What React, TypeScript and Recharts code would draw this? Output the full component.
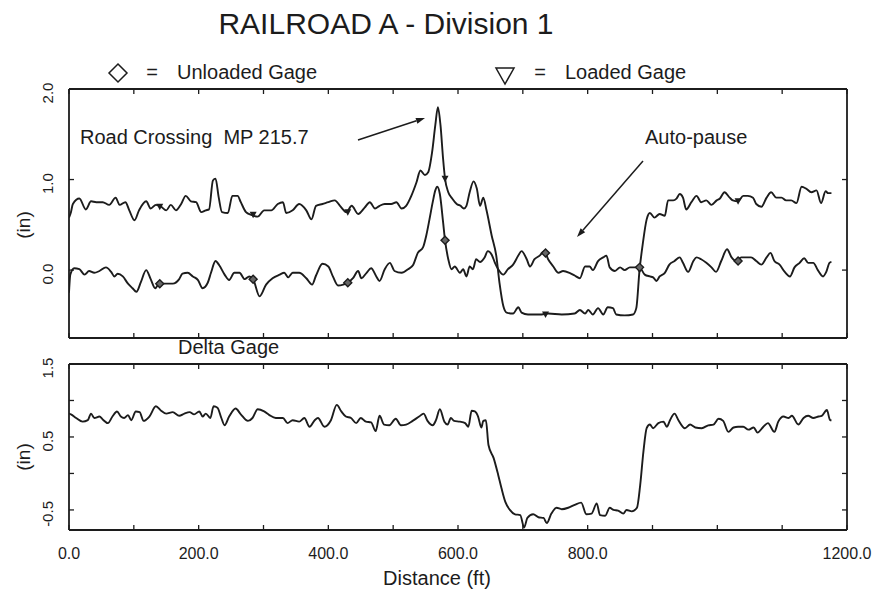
import React from 'react';
import { ComposedChart, Line, Scatter, XAxis, YAxis } from 'recharts';

type Pt = [number, number];

// [distance ft, gage in]
const loadedTrace: Pt[] = [
  [0, 0.58], [3, 0.64], [6, 0.73], [16, 0.79], [26, 0.67], [34, 0.76], [42, 0.75], [52, 0.75], [62, 0.72],
  [72, 0.8], [78, 0.72], [87, 0.75], [93, 0.66], [101, 0.55], [108, 0.66], [119, 0.76], [126, 0.68], [134, 0.72],
  [142, 0.7], [150, 0.66], [157, 0.72], [165, 0.66], [173, 0.73], [180, 0.82], [188, 0.76], [196, 0.75], [204, 0.64],
  [211, 0.66], [216, 0.67], [222, 0.99], [226, 1.01], [231, 0.8], [236, 0.64], [245, 0.63], [252, 0.82], [260, 0.82],
  [265, 0.75], [273, 0.64], [281, 0.61], [291, 0.59], [301, 0.66], [312, 0.66], [322, 0.73], [330, 0.75], [335, 0.63],
  [345, 0.66], [355, 0.73], [366, 0.66], [374, 0.56], [381, 0.71], [391, 0.73], [400, 0.75], [410, 0.77], [418, 0.71],
  [428, 0.64], [436, 0.71], [446, 0.62], [456, 0.69], [464, 0.75], [472, 0.68], [479, 0.71], [487, 0.73], [497, 0.73],
  [505, 0.75], [513, 0.68], [520, 0.71], [528, 0.82], [536, 0.97], [542, 1.1], [549, 1.05], [554, 1.08], [560, 1.3],
  [565, 1.6], [569, 1.8], [573, 1.6], [577, 1.23], [580, 1.01], [585, 0.86], [591, 0.79], [598, 0.73], [604, 0.71],
  [609, 0.68], [613, 0.71], [618, 0.86], [624, 0.98], [629, 0.9], [634, 0.71], [639, 0.8], [644, 0.66], [652, 0.38],
  [659, 0.16], [664, -0.14], [670, -0.4], [675, -0.47], [685, -0.48], [693, -0.41], [698, -0.47], [708, -0.49],
  [729, -0.49], [739, -0.48], [760, -0.49], [780, -0.48], [788, -0.44], [796, -0.48], [801, -0.44], [808, -0.49],
  [816, -0.42], [824, -0.49], [831, -0.41], [839, -0.42], [844, -0.49], [857, -0.5], [870, -0.49], [875, -0.42],
  [880, 0.0], [885, 0.29], [891, 0.56], [896, 0.63], [903, 0.58], [911, 0.62], [919, 0.6], [924, 0.77], [932, 0.77],
  [937, 0.79], [942, 0.84], [947, 0.8], [952, 0.67], [960, 0.75], [968, 0.82], [975, 0.75], [983, 0.77], [991, 0.72],
  [999, 0.77], [1004, 0.79], [1011, 0.86], [1019, 0.8], [1024, 0.77], [1032, 0.76], [1040, 0.82], [1047, 0.82],
  [1055, 0.8], [1060, 0.73], [1068, 0.7], [1076, 0.8], [1083, 0.86], [1091, 0.8], [1099, 0.8], [1106, 0.77],
  [1114, 0.77], [1122, 0.74], [1130, 0.92], [1137, 0.9], [1145, 0.86], [1153, 0.88], [1160, 0.74], [1167, 0.87],
  [1171, 0.85], [1176, 0.85],
];

const unloadedTrace: Pt[] = [
  [0, -0.25], [2, -0.05], [8, 0.02], [16, 0.01], [24, -0.05], [31, -0.01], [39, -0.03], [47, -0.01], [57, 0.03],
  [65, -0.02], [70, -0.07], [75, -0.04], [83, -0.07], [91, -0.15], [98, -0.2], [104, -0.24], [111, -0.13], [119, 0.0],
  [126, -0.1], [133, -0.2], [139, -0.15], [150, -0.15], [160, -0.15], [170, -0.1], [175, -0.04], [183, -0.03],
  [191, -0.07], [199, -0.11], [206, -0.2], [214, -0.14], [219, -0.03], [226, 0.1], [232, 0.05], [240, -0.05],
  [247, -0.11], [255, -0.03], [263, -0.03], [271, -0.1], [278, -0.07], [284, -0.1], [294, -0.29], [304, -0.16],
  [314, -0.09], [325, -0.05], [332, -0.03], [338, -0.08], [345, -0.03], [355, -0.03], [366, -0.09], [375, -0.16],
  [381, -0.06], [391, 0.07], [400, 0.04], [407, -0.07], [415, -0.17], [423, -0.16], [430, -0.14], [438, -0.09],
  [446, -0.01], [451, -0.09], [459, -0.03], [466, 0.02], [474, -0.07], [479, -0.12], [487, 0.01], [495, 0.08],
  [502, -0.01], [513, -0.03], [523, 0.01], [531, 0.06], [538, 0.19], [546, 0.25], [551, 0.38], [556, 0.56],
  [561, 0.75], [565, 0.88], [568, 0.92], [572, 0.84], [577, 0.53], [580, 0.33], [585, 0.12], [590, 0.01], [595, 0.04],
  [603, -0.03], [608, 0.01], [613, -0.07], [618, 0.04], [623, 0.01], [628, 0.12], [634, 0.09], [641, 0.14],
  [646, 0.21], [652, 0.17], [657, 0.08], [662, 0.01], [670, -0.05], [677, 0.01], [685, 0.06], [693, 0.16],
  [698, 0.21], [706, 0.12], [711, 0.04], [718, 0.12], [726, 0.16], [733, 0.21], [739, 0.12], [747, 0.04],
  [755, -0.03], [762, -0.01], [772, -0.03], [780, -0.06], [788, -0.09], [796, 0.04], [803, 0.04], [808, 0.0],
  [816, 0.1], [824, 0.14], [829, 0.16], [834, 0.03], [842, -0.01], [850, 0.03], [857, 0.0], [865, 0.03], [872, 0.03],
  [880, 0.03], [888, -0.05], [896, -0.07], [901, -0.08], [906, -0.12], [911, -0.07], [919, -0.03], [926, 0.06],
  [934, 0.1], [942, 0.14], [947, 0.08], [955, -0.02], [963, 0.1], [968, 0.14], [975, 0.12], [983, 0.08], [991, 0.03],
  [998, -0.02], [1006, 0.1], [1015, 0.23], [1022, 0.14], [1029, 0.1], [1037, 0.14], [1045, 0.14], [1052, 0.14],
  [1060, 0.1], [1068, 0.06], [1076, 0.14], [1082, 0.19], [1088, 0.1], [1096, 0.06], [1104, -0.02], [1112, -0.07],
  [1119, 0.03], [1127, 0.08], [1134, 0.13], [1140, 0.08], [1148, 0.08], [1155, 0.0], [1163, -0.07], [1168, -0.02],
  [1173, 0.08], [1176, 0.09],
];

const deltaTrace: Pt[] = [
  [0, 0.82], [3, 0.81], [11, 0.76], [21, 0.71], [29, 0.73], [34, 0.82], [39, 0.76], [47, 0.78], [52, 0.74],
  [60, 0.69], [67, 0.78], [74, 0.85], [80, 0.78], [85, 0.76], [91, 0.8], [96, 0.73], [103, 0.85], [109, 0.84],
  [115, 0.72], [124, 0.78], [134, 0.92], [142, 0.86], [150, 0.82], [160, 0.84], [170, 0.79], [178, 0.82], [186, 0.84],
  [193, 0.81], [201, 0.85], [206, 0.78], [211, 0.82], [218, 0.76], [223, 0.92], [229, 0.9], [235, 0.76], [240, 0.66],
  [247, 0.78], [257, 0.89], [265, 0.81], [276, 0.72], [283, 0.76], [291, 0.88], [301, 0.85], [309, 0.8], [319, 0.76],
  [330, 0.76], [337, 0.69], [345, 0.73], [355, 0.71], [363, 0.76], [371, 0.64], [379, 0.73], [384, 0.76], [394, 0.64],
  [404, 0.73], [413, 0.94], [420, 0.85], [427, 0.78], [435, 0.76], [443, 0.69], [450, 0.76], [458, 0.71], [466, 0.7],
  [473, 0.58], [479, 0.79], [486, 0.67], [494, 0.66], [504, 0.75], [512, 0.66], [520, 0.67], [530, 0.72], [540, 0.78],
  [547, 0.82], [553, 0.72], [561, 0.66], [566, 0.73], [572, 0.88], [579, 0.71], [584, 0.67], [589, 0.76], [594, 0.72],
  [603, 0.71], [611, 0.69], [616, 0.64], [621, 0.86], [626, 0.85], [631, 0.78], [636, 0.63], [639, 0.72], [643, 0.73],
  [647, 0.39], [655, 0.21], [662, -0.02], [667, -0.2], [673, -0.39], [680, -0.5], [688, -0.56], [696, -0.57],
  [702, -0.74], [707, -0.61], [716, -0.56], [724, -0.6], [732, -0.61], [737, -0.68], [744, -0.55], [752, -0.47],
  [760, -0.49], [770, -0.47], [780, -0.43], [790, -0.4], [798, -0.56], [806, -0.55], [814, -0.41], [819, -0.57],
  [827, -0.58], [834, -0.47], [840, -0.5], [847, -0.51], [855, -0.55], [860, -0.5], [868, -0.52], [876, -0.47],
  [881, -0.16], [886, 0.3], [891, 0.62], [896, 0.67], [901, 0.62], [909, 0.69], [917, 0.71], [922, 0.64], [927, 0.73],
  [934, 0.82], [940, 0.73], [950, 0.62], [958, 0.67], [966, 0.63], [976, 0.62], [986, 0.66], [994, 0.67], [1002, 0.75],
  [1009, 0.72], [1017, 0.57], [1025, 0.63], [1032, 0.64], [1040, 0.64], [1048, 0.6], [1056, 0.63], [1062, 0.56],
  [1071, 0.64], [1078, 0.69], [1088, 0.57], [1094, 0.71], [1102, 0.78], [1110, 0.76], [1115, 0.79], [1125, 0.67],
  [1133, 0.76], [1140, 0.79], [1148, 0.76], [1156, 0.78], [1161, 0.79], [1169, 0.87], [1174, 0.73], [1176, 0.73],
];

// symbol positions along each trace
const loadedMarks: Pt[] = [[140, 0.7], [284, 0.61], [430, 0.64], [580, 1.01], [735, -0.49], [880, 0.0], [1032, 0.76]];
const unloadedMarks: Pt[] = [[140, -0.15], [284, -0.1], [430, -0.14], [580, 0.33], [735, 0.19], [880, 0.03], [1032, 0.1]];

const distTicks = [0, 100, 200, 300, 400, 500, 600, 700, 800, 900, 1000, 1100, 1200];
const distLabels = [0, 200, 400, 600, 800, 1200];
const gageTicks = [0, 1, 2];
const deltaTicks = [-0.5, 0, 0.5, 1, 1.5];
const deltaLabels = [-0.5, 0.5, 1.5];

const INK = '#1c1c1c';
const FONT = '"Liberation Sans", Arial, sans-serif';
const TICK = 5;

const rows = (pts: Pt[]) => pts.map(([d, v]) => ({ d, v }));

// tick marks point into the plot (negative tickSize); labels are placed from the axis line
const xTick = (labels: number[]) => (p: any) => {
  const { x, y, payload } = p;
  if (!labels.includes(payload.value)) return <g />;
  return (
    <text x={x} y={y + 29} textAnchor="middle" fontSize={16} fontFamily={FONT} fill={INK}>
      {payload.value.toFixed(1)}
    </text>
  );
};

const yTick = (labels: number[]) => (p: any) => {
  const { x, y, payload } = p;
  if (!labels.includes(payload.value)) return <g />;
  const lx = x - 16;
  const ly = y + 4;
  return (
    <text
      x={lx}
      y={ly}
      transform={`rotate(-90, ${lx}, ${ly})`}
      textAnchor="middle"
      fontSize={15}
      fontFamily={FONT}
      fill={INK}
    >
      {payload.value.toFixed(1)}
    </text>
  );
};

const triangle = (p: any) => (
  <path d={`M${p.cx - 3.5},${p.cy - 3} L${p.cx + 3.5},${p.cy - 3} L${p.cx},${p.cy + 3.5} Z`} fill={INK} />
);

const diamond = (p: any) => (
  <path
    d={`M${p.cx},${p.cy - 4} L${p.cx + 4},${p.cy} L${p.cx},${p.cy + 4} L${p.cx - 4},${p.cy} Z`}
    fill="#666"
    stroke={INK}
    strokeWidth={1.4}
  />
);

const axisLine = { stroke: INK, strokeWidth: 1.8 };
const tickLine = { stroke: INK, strokeWidth: 1.3 };

function Arrow({ x1, y1, x2, y2 }: { x1: number; y1: number; x2: number; y2: number }) {
  const len = Math.hypot(x2 - x1, y2 - y1);
  const ux = (x2 - x1) / len;
  const uy = (y2 - y1) / len;
  const bx = x2 - ux * 9;
  const by = y2 - uy * 9;
  const head = `${x2},${y2} ${bx - uy * 3},${by + ux * 3} ${bx + uy * 3},${by - ux * 3}`;
  return (
    <g>
      <line x1={x1} y1={y1} x2={bx} y2={by} stroke={INK} strokeWidth={1.5} />
      <polygon points={head} fill={INK} />
    </g>
  );
}

const axes = (yDomain: [number, number], yTicks: number[], yLabels: number[], xLabels: number[]) => [
  <XAxis
    key="xb"
    xAxisId="b"
    dataKey="d"
    type="number"
    orientation="bottom"
    domain={[0, 1200]}
    allowDataOverflow
    ticks={distTicks}
    interval={0}
    height={1}
    tickSize={-TICK}
    tickMargin={TICK}
    tickLine={tickLine}
    axisLine={axisLine}
    tick={xTick(xLabels)}
  />,
  <XAxis
    key="xt"
    xAxisId="t"
    dataKey="d"
    type="number"
    orientation="top"
    domain={[0, 1200]}
    allowDataOverflow
    ticks={distTicks}
    interval={0}
    height={1}
    tickSize={-TICK}
    tickMargin={TICK}
    tickLine={tickLine}
    axisLine={axisLine}
    tick={xTick([])}
  />,
  <YAxis
    key="yl"
    yAxisId="l"
    type="number"
    domain={yDomain}
    allowDataOverflow
    ticks={yTicks}
    interval={0}
    width={60}
    tickSize={-TICK}
    tickMargin={TICK}
    tickLine={tickLine}
    axisLine={axisLine}
    tick={yTick(yLabels)}
  />,
  <YAxis
    key="yr"
    yAxisId="r"
    orientation="right"
    type="number"
    domain={yDomain}
    allowDataOverflow
    ticks={yTicks}
    interval={0}
    width={1}
    tickSize={-TICK}
    tickMargin={TICK}
    tickLine={tickLine}
    axisLine={axisLine}
    tick={yTick([])}
  />,
];

const traceStyle = { type: 'monotone' as const, stroke: INK, strokeWidth: 1.9, dot: false, isAnimationActive: false };

export default function App() {
  return (
    <div style={{ position: 'absolute', left: 0, top: 0, width: 875, height: 593, background: '#fff', fontFamily: FONT }}>
      <div style={{ position: 'absolute', left: 0, top: 0 }}>
        <ComposedChart width={875} height={350} margin={{ top: 88, right: 27, bottom: 11, left: 9 }}>
          {axes([-0.75, 2], gageTicks, gageTicks, [])}
          <Line data={rows(loadedTrace)} dataKey="v" xAxisId="b" yAxisId="l" {...traceStyle} />
          <Line data={rows(unloadedTrace)} dataKey="v" xAxisId="b" yAxisId="l" {...traceStyle} />
          <Scatter data={rows(loadedMarks)} dataKey="v" xAxisId="b" yAxisId="l" shape={triangle} isAnimationActive={false} />
          <Scatter data={rows(unloadedMarks)} dataKey="v" xAxisId="b" yAxisId="l" shape={diamond} isAnimationActive={false} />
        </ComposedChart>
      </div>
      <div style={{ position: 'absolute', left: 0, top: 350 }}>
        <ComposedChart width={875} height={243} margin={{ top: 13, right: 27, bottom: 62, left: 9 }}>
          {axes([-0.775, 1.5], deltaTicks, deltaLabels, distLabels)}
          <Line data={rows(deltaTrace)} dataKey="v" xAxisId="b" yAxisId="l" {...traceStyle} />
        </ComposedChart>
      </div>
      <svg width={875} height={593} style={{ position: 'absolute', left: 0, top: 0, pointerEvents: 'none' }}>
        <g fontFamily={FONT} fill={INK}>
          <text x={386} y={34} fontSize={30} textAnchor="middle">RAILROAD A - Division 1</text>

          <polygon points="118,64 127,73 118,82 109,73" fill="none" stroke={INK} strokeWidth={1.5} />
          <text x={152} y={79} fontSize={20} textAnchor="middle">=</text>
          <text x={177} y={79} fontSize={20}>Unloaded Gage</text>

          <polygon points="496,68 514,68 505,84" fill="none" stroke={INK} strokeWidth={1.5} />
          <text x={540} y={79} fontSize={20} textAnchor="middle">=</text>
          <text x={565} y={79} fontSize={20}>Loaded Gage</text>

          <text x={80} y={144} fontSize={20} style={{ whiteSpace: 'pre' }}>Road Crossing  MP 215.7</text>
          <Arrow x1={358} y1={140} x2={425} y2={118} />
          <text x={645} y={144} fontSize={20}>Auto-pause</text>
          <Arrow x1={643} y1={161} x2={577} y2={237} />

          <text x={178} y={354} fontSize={20}>Delta Gage</text>

          <text x={30} y={225} fontSize={19} textAnchor="middle" transform="rotate(-90, 30, 225)">(in)</text>
          <text x={30} y={457} fontSize={19} textAnchor="middle" transform="rotate(-90, 30, 457)">(in)</text>

          <text x={437} y={585} fontSize={20} textAnchor="middle">Distance (ft)</text>
        </g>
      </svg>
    </div>
  );
}
